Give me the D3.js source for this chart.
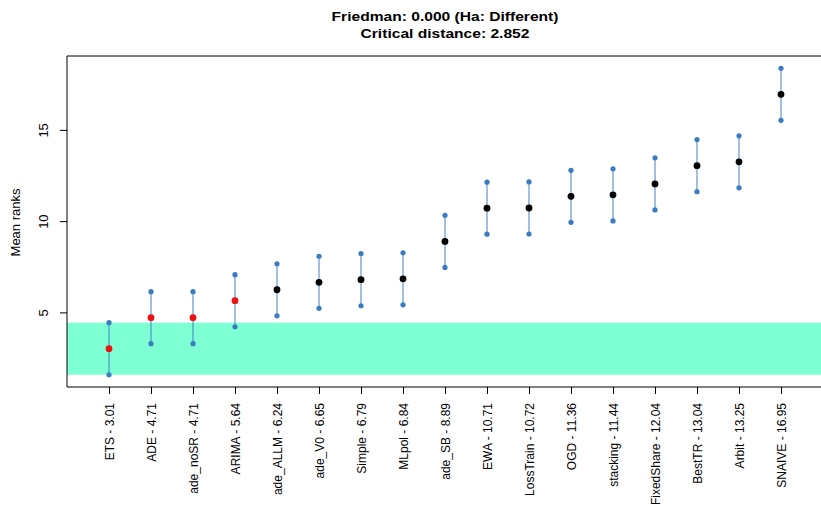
<!DOCTYPE html>
<html>
<head>
<meta charset="utf-8">
<style>
    body { margin: 0; background: #fff; }
    svg { font-family: 'Liberation Sans', Arial, Helvetica, sans-serif; }
    .title { font-size: 13px; font-weight: bold; fill: #000; }
    .axis text { font-size: 12px; fill: #000; }
    .axis line { stroke: #000; }
    .axis .domain { display: none; }
</style>
</head>
<body>
<svg width="821" height="514"></svg>
<script src="https://d3js.org/d3.v7.min.js"></script>
<script>
    // methods, sorted by mean rank
    let methods = ["ETS", "ADE", "ade_noSR", "ARIMA", "ade_ALLM", "ade_V0", "Simple", "MLpol",
        "ade_SB", "EWA", "LossTrain", "OGD", "stacking", "FixedShare", "BestTR", "Arbit", "SNAIVE"]
    let meanRanks = [3.01, 4.71, 4.71, 5.64, 6.24, 6.65, 6.79, 6.84,
        8.89, 10.71, 10.72, 11.36, 11.44, 12.04, 13.04, 13.25, 16.95]
    let criticalDistance = 2.852
    let friedmanP = 0.000
    let yTicks = [5, 10, 15]

    let width = 821
    let height = 514
    let margin = {top: 56, right: -2, bottom: 127, left: 67}

    let svg = d3.select("svg")

    let data = methods.map((m, i) => ({
        name: m,
        rank: meanRanks[i],
        idx: i + 1,
        lo: meanRanks[i] - criticalDistance / 2,
        hi: meanRanks[i] + criticalDistance / 2
    }))

    let best = d3.min(meanRanks)
    // methods not significantly different from the best one
    data.forEach(d => { d.same = d.rank - best <= criticalDistance })

    let lo = d3.min(data, d => d.lo)
    let hi = d3.max(data, d => d.hi)
    let pad = (hi - lo) * 0.04

    let x = d3.scaleLinear()
        .domain([0, methods.length + 1])
        .range([margin.left, width - margin.right])

    let y = d3.scaleLinear()
        .domain([lo - pad, hi + pad])
        .range([height - margin.bottom, margin.top])

    // band for critical distance around best method
    svg.append("rect")
        .attr("x", x(0))
        .attr("width", x(methods.length + 1) - x(0))
        .attr("y", y(best + criticalDistance / 2))
        .attr("height", y(best - criticalDistance / 2) - y(best + criticalDistance / 2))
        .attr("fill", "#7fffd4")

    // box (right side falls off the page)
    svg.append("path")
        .attr("d", `M${x(methods.length + 1)},${y.range()[1]}H${x(0)}V${y.range()[0]}H${x(methods.length + 1)}`)
        .attr("fill", "none")
        .attr("stroke", "#000")
        .attr("stroke-width", 1)

    let yAxis = svg.append("g")
        .attr("class", "axis")
        .attr("transform", `translate(${x(0)},0)`)
        .call(d3.axisLeft(y).tickValues(yTicks).tickSize(7).tickPadding(4).tickFormat(d3.format("d")))
    yAxis.selectAll(".tick text")
        .attr("transform", "rotate(-90)")
        .attr("x", 0)
        .attr("y", -19)
        .attr("dy", 0)
        .attr("text-anchor", "middle")
        .style("font-size", "13px")

    let xAxis = svg.append("g")
        .attr("class", "axis")
        .attr("transform", `translate(0,${y.range()[0]})`)
        .call(d3.axisBottom(x).tickValues(data.map(d => d.idx)).tickSize(7)
            .tickFormat(i => `${methods[i - 1]} - ${meanRanks[i - 1].toFixed(2)}`))
    xAxis.selectAll(".tick text")
        .attr("transform", "rotate(-90)")
        .attr("x", -16)
        .attr("y", 0)
        .attr("dy", "0.35em")
        .attr("text-anchor", "end")

    svg.append("text")
        .attr("transform", `translate(20,${(y.range()[0] + y.range()[1]) / 2 + 1}) rotate(-90)`)
        .attr("text-anchor", "middle")
        .style("font-size", "13px")
        .text("Mean ranks")

    // title looks a bit stretched sideways in the original
    svg.append("text")
        .attr("class", "title")
        .attr("transform", "translate(445,20.5) scale(1.2,1)")
        .attr("text-anchor", "middle")
        .text(`Friedman: ${friedmanP.toFixed(3)} (Ha: Different)`)

    svg.append("text")
        .attr("class", "title")
        .attr("transform", "translate(445,38) scale(1.2,1)")
        .attr("text-anchor", "middle")
        .text(`Critical distance: ${criticalDistance.toFixed(3)}`)

    let g = svg.append("g")

    g.selectAll("line.bar")
        .data(data)
        .join("line")
        .attr("class", "bar")
        .attr("x1", d => x(d.idx))
        .attr("x2", d => x(d.idx))
        .attr("y1", d => y(d.lo))
        .attr("y2", d => y(d.hi))
        .attr("stroke", "#3d7fc6")
        .attr("stroke-opacity", 0.75)
        .attr("stroke-width", 1.3)

    g.selectAll("circle.lo")
        .data(data)
        .join("circle")
        .attr("cx", d => x(d.idx))
        .attr("cy", d => y(d.lo))
        .attr("r", 2.6)
        .attr("fill", "#3a7cc2")

    g.selectAll("circle.hi")
        .data(data)
        .join("circle")
        .attr("cx", d => x(d.idx))
        .attr("cy", d => y(d.hi))
        .attr("r", 2.6)
        .attr("fill", "#3a7cc2")

    g.selectAll("circle.mean")
        .data(data)
        .join("circle")
        .attr("cx", d => x(d.idx))
        .attr("cy", d => y(d.rank))
        .attr("r", 3.4)
        .attr("fill", d => d.same ? "#ee1111" : "#000")
</script>
</body>
</html>
